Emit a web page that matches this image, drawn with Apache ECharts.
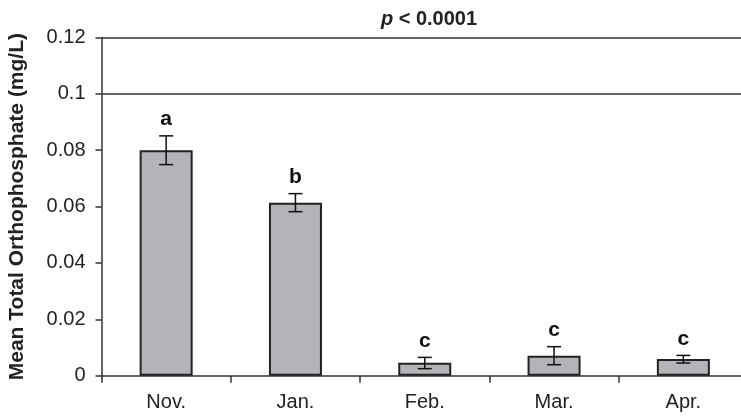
<!DOCTYPE html>
<html><head><meta charset="utf-8">
<script src="https://cdn.jsdelivr.net/npm/echarts@6/dist/echarts.min.js"></script>
<style>html,body{margin:0;padding:0;background:#fff}#c{width:741px;height:416px}</style>
</head><body><div id="c"></div>
<script>
var categories = ['Nov.', 'Jan.', 'Feb.', 'Mar.', 'Apr.'];
var means = [0.0800, 0.0614, 0.0046, 0.0071, 0.0059];
var errLow = [0.0749, 0.0582, 0.0025, 0.0039, 0.0045];
var errHigh = [0.0851, 0.0646, 0.0065, 0.0103, 0.0072];
var letters = ['a', 'b', 'c', 'c', 'c'];
var refLines = [0.1, 0.12];

var FONT = '"Liberation Sans", Arial, Helvetica, sans-serif';
var chart = echarts.init(document.getElementById('c'), null, {renderer: 'canvas'});
var errData = categories.map(function (c, i) { return [i, errLow[i], errHigh[i], letters[i]]; });

chart.setOption({
  animation: false,
  title: {
    text: '{i|p} < 0.0001',
    left: 424, top: 4, textAlign: 'center',
    textStyle: {
      fontFamily: FONT, fontSize: 20, fontWeight: 'bold', color: '#222',
      rich: { i: { fontFamily: FONT, fontSize: 20, fontWeight: 'bold', fontStyle: 'italic', color: '#222' } }
    }
  },
  grid: { left: 101.5, top: 37.5, width: 646.5, height: 338.2, containLabel: false, outerBoundsMode: 'none' },
  xAxis: {
    type: 'category', data: categories,
    axisLine: { lineStyle: { color: '#333', width: 1.5 } },
    axisTick: { show: true, length: 7, alignWithLabel: false, lineStyle: { color: '#333', width: 1.5 } },
    axisLabel: { fontFamily: FONT, fontSize: 20, color: '#222', margin: 17 }
  },
  yAxis: {
    type: 'value', min: 0, max: 0.12, interval: 0.02,
    name: 'Mean Total Orthophosphate (mg/L)', nameLocation: 'middle', nameGap: 74, nameRotate: 90,
    nameTextStyle: { fontFamily: FONT, fontSize: 21, fontWeight: 'bold', color: '#222' },
    axisLine: { show: true, lineStyle: { color: '#333', width: 1.5 } },
    axisTick: { show: true, length: 6, lineStyle: { color: '#333', width: 1.5 } },
    splitLine: { show: false },
    axisLabel: {
      fontFamily: FONT, fontSize: 20, color: '#222', margin: 16,
      formatter: function (v) { return String(parseFloat(v.toFixed(4))); }
    }
  },
  series: [
    {
      type: 'bar', data: means, barWidth: 53,
      itemStyle: { color: '#b3b4b8', borderColor: '#222', borderWidth: 2 },
      markLine: {
        silent: true, symbol: 'none', label: { show: false },
        lineStyle: { color: '#333', width: 1.5, type: 'solid' },
        data: refLines.map(function (v) { return { yAxis: v }; })
      }
    },
    {
      type: 'custom', data: errData,
      encode: { x: 0, y: [1, 2] },
      renderItem: function (params, api) {
        var x = api.value(0);
        var lo = api.coord([x, api.value(1)]);
        var hi = api.coord([x, api.value(2)]);
        var cap = 7;
        var st = { stroke: '#111', lineWidth: 1.5 };
        return {
          type: 'group',
          children: [
            { type: 'line', shape: { x1: lo[0], y1: lo[1], x2: hi[0], y2: hi[1] }, style: st },
            { type: 'line', shape: { x1: hi[0] - cap, y1: hi[1], x2: hi[0] + cap, y2: hi[1] }, style: st },
            { type: 'line', shape: { x1: lo[0] - cap, y1: lo[1], x2: lo[0] + cap, y2: lo[1] }, style: st },
            { type: 'text', x: hi[0], y: hi[1] - 6,
              style: { text: letters[params.dataIndex], textAlign: 'center', textVerticalAlign: 'bottom',
                fontFamily: FONT, fontSize: 21, fontWeight: 'bold', fill: '#111' } }
          ]
        };
      },
      z: 5
    }
  ]
});
</script></body></html>
